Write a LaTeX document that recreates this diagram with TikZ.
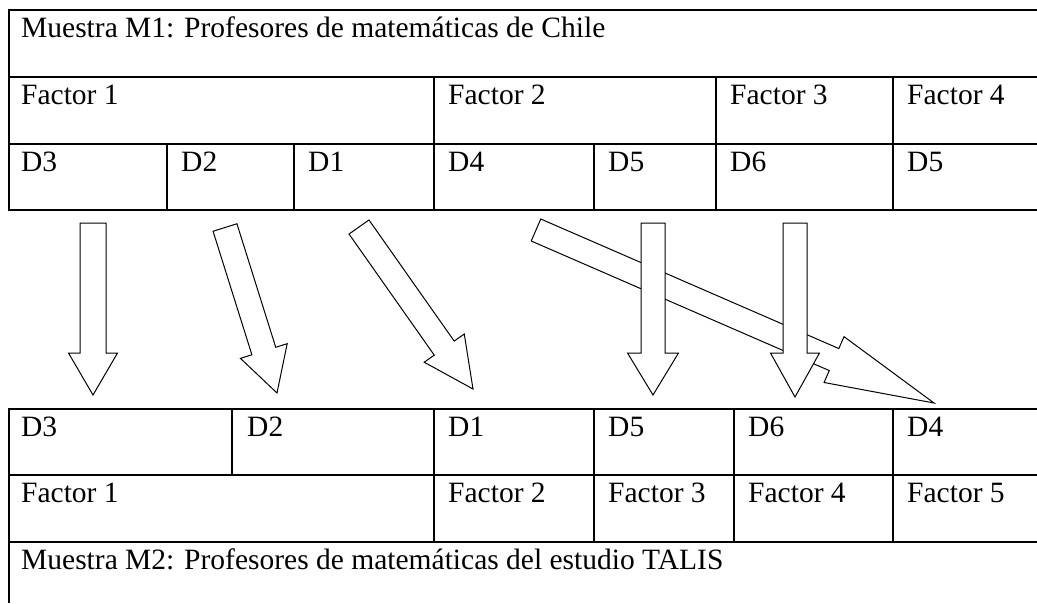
\documentclass[tikz,border=0pt]{standalone}
\usepackage{fontspec}
\setmainfont{Liberation Serif}
\usepackage{tikz}
\usetikzlibrary{calc}

\tikzset{
  cell/.style={anchor=base west, inner sep=0pt},
  grid/.style={line width=2pt},
  blockarr/.style={draw, fill=white, line width=1pt, line join=miter}
}
% block arrow: tail, tip, half shaft, half head, head length
\newcommand{\blockarrow}[5]{%
  \coordinate (neck) at ($(#2)!#5!(#1)$);
  \draw[blockarr] ($(#1)!#3!90:(#2)$) -- ($(neck)!#3!90:(#2)$) -- ($(neck)!#4!90:(#2)$)
    -- (#2) -- ($(neck)!#4!-90:(#2)$) -- ($(neck)!#3!-90:(#2)$) -- ($(#1)!#3!-90:(#2)$) -- cycle;
}

\begin{document}
\begin{tikzpicture}[x=1pt, y=-1pt, font=\fontsize{29.5}{34}\selectfont]
\useasboundingbox (0,0) rectangle (1037,603);

% Upper table (M1)
\draw[grid] (1037,10) -- (9,10) -- (9,210) -- (1037,210);
\draw[grid] (9,77) -- (1037,77) (9,144) -- (1037,144);
\foreach \x in {434,716,893} \draw[grid] (\x,77) -- (\x,144);
\foreach \x in {167,294,434,594,716,893} \draw[grid] (\x,144) -- (\x,210);

\node[cell] (muestraA) at (21,37) {Muestra M1: Profesores de matemáticas de Chile};
\foreach \x/\t/\n in {21/1/fA1, 448/2/fA2, 730/3/fA3, 907/4/fA4}
  \node[cell] (\n) at (\x,104) {Factor \t};
\foreach \x/\t/\n in {21/D3/dA1, 181/D2/dA2, 308/D1/dA3, 448/D4/dA4, 608/D5/dA5, 730/D6/dA6, 907/D5/dA7}
  \node[cell] (\n) at (\x,171) {\t};

% Lower table (M2)
\draw[grid] (1037,409) -- (9,409) -- (9,603);
\draw[grid] (9,475) -- (1037,475) (9,542) -- (1037,542);
\foreach \x in {232,434,594,734,893} \draw[grid] (\x,409) -- (\x,475);
\foreach \x in {434,594,734,893} \draw[grid] (\x,475) -- (\x,542);

\foreach \x/\t/\n in {21/D3/dB1, 247/D2/dB2, 448/D1/dB3, 608/D5/dB4, 748/D6/dB5, 907/D4/dB6}
  \node[cell] (\n) at (\x,436) {\t};
\foreach \x/\t/\n in {21/1/fB1, 448/2/fB2, 608/3/fB3, 748/4/fB4, 907/5/fB5}
  \node[cell] (\n) at (\x,502) {Factor \t};
\node[cell] (muestraB) at (21,569) {Muestra M2: Profesores de matemáticas del estudio TALIS};

% Arrows
\coordinate (t4) at (536,230);  \coordinate (h4) at (934,403);
\coordinate (t3) at (93,223);   \coordinate (h3) at (93,395);
\coordinate (t2) at (225,227.5);\coordinate (h2) at (277,393);
\coordinate (t1) at (359,227);  \coordinate (h1) at (473,389);
\coordinate (t5) at (653,223);  \coordinate (h5) at (653,395);
\coordinate (t6) at (795,223);  \coordinate (h6) at (795,397);
\foreach \a/\b/\s/\h/\l in {t4/h4/12pt/25pt/109pt, t3/h3/13pt/24.5pt/42pt,
    t2/h2/12.5pt/24.5pt/44pt, t1/h1/12.2pt/24.5pt/50pt,
    t5/h5/12pt/25.5pt/42pt, t6/h6/12pt/24.5pt/44pt}
  {\blockarrow{\a}{\b}{\s}{\h}{\l}}

\end{tikzpicture}
\end{document}
